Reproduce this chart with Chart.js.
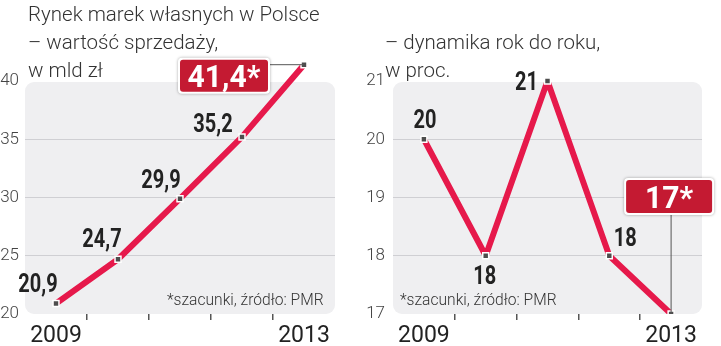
<!DOCTYPE html>
<html>
<head>
<meta charset="utf-8">
<script src="https://cdn.jsdelivr.net/npm/chart.js@4"></script>
<style>
body{margin:0;background:#fff;}
#wrap{position:relative;width:721px;height:346px;overflow:hidden;font-family:Roboto,sans-serif;color:#333;}
canvas{position:absolute;top:0;}
.title{position:absolute;font-weight:300;font-size:20.5px;line-height:28px;white-space:nowrap;}
.note{position:absolute;font-weight:300;font-size:15.6px;line-height:16px;white-space:nowrap;}
</style>
</head>
<body>
<div id="wrap">
<canvas id="value-chart" width="360" height="346" style="left:0"></canvas>
<canvas id="growth-chart" width="361" height="346" style="left:360px"></canvas>
<div class="title" style="left:28px;top:0">Rynek marek własnych w Polsce<br>– wartość sprzedaży,<br>w mld zł</div>
<div class="title" style="left:385px;top:28px">– dynamika rok do roku,<br>w proc.</div>
<div class="note" style="left:167px;top:292px">*szacunki, źródło: PMR</div>
<div class="note" style="left:400px;top:292px">*szacunki, źródło: PMR</div>
</div>
<script>
var years=['2009','2010','2011','2012','2013'];
var salesValue=[20.9,24.7,29.9,35.2,41.4];
var salesLabels=['20,9','24,7','29,9','35,2','41,4*'];
var salesTicks=[20,25,30,35,40];
var growthValue=[20,18,21,18,17];
var growthLabels=['20','18','21','18','17*'];
var growthTicks=[17,18,19,20,21];

// where each value label sits relative to its point
var salesOffsets=[[-18,-20],[-16,-21],[-19,-20],[-29,-14]];
var growthOffsets=[[1,-20],[-1,19],[-21,0],[16,-19]];

function round_rect(ctx,x,y,w,h,r)
{
    ctx.beginPath();
    ctx.moveTo(x+r,y);
    ctx.arcTo(x+w,y,x+w,y+h,r);
    ctx.arcTo(x+w,y+h,x,y+h,r);
    ctx.arcTo(x,y+h,x,y,r);
    ctx.arcTo(x,y,x+w,y,r);
    ctx.closePath();
}
function draw_text(ctx,text,x,y,size,sx,color)
{
    ctx.save();
    ctx.font='bold '+size+'px Roboto';
    ctx.fillStyle=color;
    ctx.textAlign='center';
    ctx.textBaseline='alphabetic';
    ctx.translate(x,y+size*0.355);
    ctx.scale(sx,1);
    ctx.fillText(text,0,0);
    ctx.restore();
}
var panel={
    id:'panel',
    beforeDraw:function(chart,args,opts)
    {
        var area=chart.chartArea;
        var ctx=chart.ctx;
        var top=chart.scales.y.getPixelForValue(opts.ticks[opts.ticks.length-1])+1;
        ctx.save();
        ctx.fillStyle='#efeff1';
        round_rect(ctx,area.left,top,area.right-area.left,area.bottom-top,9);
        ctx.fill();
        ctx.restore();
    },
    afterDatasetsDraw:function(chart,args,opts)
    {
        var ctx=chart.ctx;
        var pts=chart.getDatasetMeta(0).data;
        var last=pts.length-1;
        for(var i=0;i<last;i++)
        {
            draw_text(ctx,opts.labels[i],pts[i].x+opts.offsets[i][0],pts[i].y+opts.offsets[i][1],25,0.8,'#222');
        }
        // highlighted last value in a red box, joined to its point
        var q=pts[last];
        var b=opts.box;
        var bx=q.x+b.dx-b.w/2;
        var by=q.y+b.dy-b.h/2;
        var cx=Math.min(Math.max(q.x,bx),bx+b.w);
        var cy=Math.min(Math.max(q.y,by),by+b.h);
        ctx.save();
        ctx.strokeStyle='#555';
        ctx.lineWidth=1;
        ctx.beginPath();
        ctx.moveTo(cx,cy);
        ctx.lineTo(q.x,q.y);
        ctx.stroke();
        ctx.shadowColor='rgba(0,0,0,0.35)';
        ctx.shadowBlur=3;
        ctx.fillStyle='#fff';
        round_rect(ctx,bx,by,b.w,b.h,4);
        ctx.fill();
        ctx.shadowColor='rgba(0,0,0,0)';
        ctx.fillStyle='#c41a32';
        round_rect(ctx,bx+2,by+2,b.w-4,b.h-4,3);
        ctx.fill();
        ctx.restore();
        draw_text(ctx,opts.labels[last],bx+b.w/2,by+b.h/2,31,0.97,'#fff');
    }
};
function create_graph(id,values,labels,ticks,cfg)
{
    var el=document.getElementById(id).getContext('2d');
    return new Chart(el,{
        type:'line',
        data:{
            labels:years,
            datasets:[
                {
                    data:values,
                    borderColor:'#e6194b',
                    borderWidth:6,
                    tension:0,
                    borderJoinStyle:'round',
                    borderCapStyle:'round',
                    pointStyle:'rect',
                    pointRadius:4.2,
                    pointBackgroundColor:'#4d4d4d',
                    pointBorderColor:'#fff',
                    pointBorderWidth:1.5
                }
            ]
        },
        options:{
            responsive:false,
            animation:false,
            layout:{padding:{top:57.7,right:cfg.right,left:0,bottom:0}},
            plugins:{
                legend:{display:false},
                tooltip:{enabled:false},
                panel:{labels:labels,offsets:cfg.offsets,ticks:ticks,box:cfg.box}
            },
            scales:{
                x:{
                    type:'category',
                    offset:true,
                    grid:{
                        offset:true,
                        drawOnChartArea:false,
                        drawTicks:true,
                        tickLength:6,
                        lineWidth:1.5,
                        // only the marks between years, not the outer edges
                        color:function(c){return (c.type!=='tick'||c.index===0)?'rgba(0,0,0,0)':'#555';}
                    },
                    border:{display:false},
                    ticks:{
                        padding:2,
                        color:'#222',
                        font:{family:'Roboto',size:23},
                        maxRotation:0,
                        autoSkip:false,
                        callback:function(v,i){return (i===0||i===years.length-1)?years[i]:'';}
                    },
                    afterFit:function(s){s.height=32;}
                },
                y:{
                    min:ticks[0],
                    max:cfg.max,
                    afterBuildTicks:function(s){s.ticks=ticks.map(function(v){return {value:v};});},
                    grid:{
                        drawTicks:false,
                        color:function(c)
                        {
                            var v=c.tick?c.tick.value:null;
                            return (v===ticks[0]||v===ticks[ticks.length-1])?'rgba(0,0,0,0)':'#cfcfd3';
                        }
                    },
                    border:{display:false},
                    ticks:{padding:cfg.pad,color:'#444',font:{family:'Roboto',size:17,weight:300}},
                    afterFit:function(s){s.width=cfg.axis;}
                }
            }
        },
        plugins:[panel]
    });
}
window.onload=function()
{
    create_graph('value-chart',salesValue,salesLabels,salesTicks,
        {max:42,right:25,axis:25,pad:6,offsets:salesOffsets,box:{w:92,h:36,dx:-80,dy:11}});
    create_graph('growth-chart',growthValue,growthLabels,growthTicks,
        {max:21.4,right:19,axis:33,pad:8,offsets:growthOffsets,box:{w:90,h:37,dx:-2,dy:-117.5}});
}
</script>
</body>
</html>
